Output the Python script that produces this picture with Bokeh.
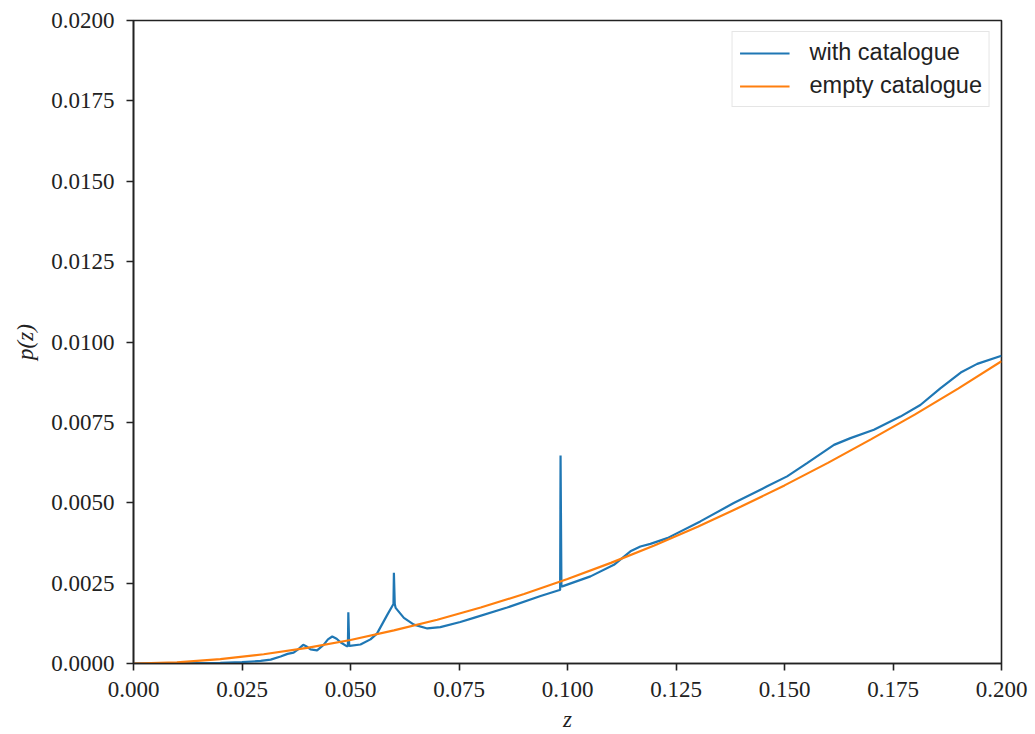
from bokeh.plotting import figure
from bokeh.models import Range1d, FixedTicker, PrintfTickFormatter, Legend, LegendItem
from bokeh.embed import file_html
from bokeh.resources import INLINE

# redshift grid and probability density with the galaxy catalogue
z_with = [0.0, 0.01, 0.02, 0.025, 0.0293, 0.0316, 0.0339, 0.0355, 0.0369, 0.038,
          0.0391, 0.04, 0.0408, 0.0423, 0.0438, 0.0448, 0.0458, 0.0468, 0.0477, 0.0491,
          0.0494, 0.0495, 0.0497, 0.0498, 0.0523, 0.0546, 0.0561, 0.0585, 0.0596, 0.0599,
          0.0600, 0.0602, 0.0604, 0.0623, 0.0646, 0.0677, 0.0707, 0.0753, 0.0784, 0.0861,
          0.0938, 0.0980, 0.0983, 0.0984, 0.0986, 0.0988, 0.1053, 0.1107, 0.1145, 0.1168,
          0.1191, 0.1230, 0.1306, 0.1383, 0.1460, 0.1506, 0.1552, 0.1614, 0.1652, 0.1706,
          0.1767, 0.1813, 0.1859, 0.1906, 0.1944, 0.2]
p_with = [0.0, 0.000005, 0.00002, 0.00004, 0.00008, 0.00012, 0.00022, 0.00030, 0.00034, 0.00045,
          0.00058, 0.00052, 0.00044, 0.00041, 0.00058, 0.00075, 0.00084, 0.00077, 0.00066, 0.00054,
          0.00054, 0.00159, 0.00056, 0.00055, 0.00059, 0.00075, 0.00093, 0.00152, 0.00178, 0.00185,
          0.00282, 0.00185, 0.00173, 0.00142, 0.00121, 0.00109, 0.00113, 0.00129, 0.00142, 0.00174,
          0.00210, 0.00228, 0.00229, 0.00647, 0.00240, 0.00240, 0.00271, 0.00307, 0.00349, 0.00364,
          0.00372, 0.00390, 0.00442, 0.00499, 0.00551, 0.00582, 0.00623, 0.00680, 0.00701, 0.00727,
          0.00768, 0.00804, 0.00856, 0.00905, 0.00932, 0.00957]

# probability density for an empty catalogue
z_empty = [0.0, 0.01, 0.02, 0.03, 0.04, 0.05, 0.06, 0.07, 0.08, 0.09, 0.10,
           0.11, 0.12, 0.13, 0.14, 0.15, 0.16, 0.17, 0.18, 0.19, 0.20]
p_empty = [0.0, 0.000038, 0.000136, 0.000287, 0.000487, 0.00073, 0.00103, 0.00136, 0.00174,
           0.00216, 0.00263, 0.00313, 0.00367, 0.00425, 0.00488, 0.00554, 0.00624, 0.00698,
           0.00774, 0.00855, 0.0094]

x_ticks = [0.0, 0.025, 0.05, 0.075, 0.1, 0.125, 0.15, 0.175, 0.2]
y_ticks = [0.0, 0.0025, 0.005, 0.0075, 0.01, 0.0125, 0.015, 0.0175, 0.02]

SERIF = "Liberation Serif"
SANS = "Liberation Sans"

p = figure(width=1035, height=734, output_backend="svg", toolbar_location=None,
           x_range=Range1d(0, 0.2), y_range=Range1d(0, 0.02),
           min_border_left=133, min_border_right=34, min_border_top=20, min_border_bottom=70)
p.background_fill_color = "white"
p.border_fill_color = "white"
p.grid.visible = False
p.outline_line_color = "#222222"
p.outline_line_width = 1.6

for ax in (p.xaxis[0], p.yaxis[0]):
    ax.axis_line_color = "#222222"
    ax.axis_line_width = 1.6
    ax.major_tick_line_color = "#222222"
    ax.major_tick_line_width = 1.6
    ax.major_tick_out = 7
    ax.major_tick_in = 0
    ax.minor_tick_line_color = None
    ax.major_label_text_font = SERIF
    ax.major_label_text_font_size = "23px"
    ax.major_label_text_color = "#222222"
    ax.axis_label_text_font = SERIF
    ax.axis_label_text_font_style = "italic"
    ax.axis_label_text_font_size = "23px"
    ax.axis_label_text_color = "#222222"

p.xaxis.ticker = FixedTicker(ticks=x_ticks)
p.yaxis.ticker = FixedTicker(ticks=y_ticks)
p.xaxis.formatter = PrintfTickFormatter(format="%.3f")
p.yaxis.formatter = PrintfTickFormatter(format="%.4f")
p.xaxis.major_label_standoff = 11
p.yaxis.major_label_standoff = 12
p.xaxis.axis_label = "z"
p.yaxis.axis_label = "p(z)"
p.xaxis.axis_label_standoff = 7
p.yaxis.axis_label_standoff = 10

r_with = p.line(z_with, p_with, line_color="#1f77b4", line_width=2.2)
r_empty = p.line(z_empty, p_empty, line_color="#ff7f0e", line_width=2.2)

legend = Legend(items=[LegendItem(label="with catalogue", renderers=[r_with]),
                       LegendItem(label="empty catalogue", renderers=[r_empty])],
                location="top_right")
legend.label_text_font = SANS
legend.label_text_font_size = "23.5px"
legend.label_text_color = "#222222"
legend.glyph_width = 50
legend.glyph_height = 24
legend.label_standoff = 20
legend.spacing = 6
legend.padding = 7
legend.margin = 11
legend.border_line_color = "#cccccc"
legend.border_line_width = 1.5
legend.background_fill_color = "white"
legend.background_fill_alpha = 0.8
p.add_layout(legend)

open("out.html", "w").write(file_html(p, INLINE))
